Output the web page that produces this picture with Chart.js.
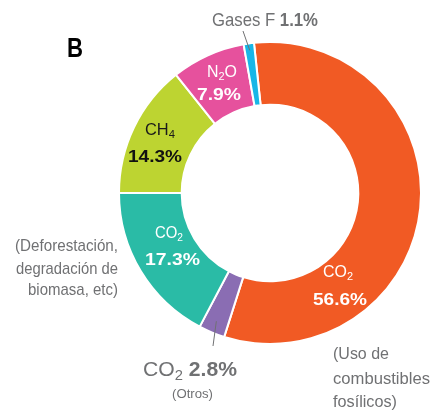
<!DOCTYPE html>
<html>
<head>
<meta charset="utf-8">
<script src="https://cdn.jsdelivr.net/npm/chart.js@4"></script>
<style>
  body { margin: 0; background: #fff; }
  #wrap { width: 433px; height: 412px; position: relative; }
</style>
</head>
<body>
<div id="wrap"><canvas id="chart"></canvas></div>
<script>
// data (percent of emissions)
const categories = ['CO2 (Uso de combustibles fosílicos)', 'CO2 (Otros)', 'CO2 (Deforestación, degradación de biomasa, etc)', 'CH4', 'N2O', 'Gases F'];
const shares = [56.6, 2.8, 17.3, 14.3, 7.9, 1.1];
const colors = ['#f15a24', '#8a6db3', '#2abba6', '#bdd431', '#e6519d', '#17b6e7'];

const gray = '#707173';
const FONT = '"Liberation Sans", Arial, sans-serif';

function pct(i) { return shares[i].toFixed(1) + '%'; }

// draw a run of text pieces, squeezed to a target width
function runs(ctx, parts, x, y, align, width, color) {
  let total = 0;
  parts.forEach(p => { ctx.font = p[1]; p.w = ctx.measureText(p[0]).width; total += p.w; });
  const sx = width ? width / total : 1;
  ctx.save();
  ctx.fillStyle = color;
  ctx.textBaseline = 'alphabetic';
  ctx.textAlign = 'left';
  ctx.translate(x, y);
  ctx.scale(sx, 1);
  let pos = align === 'center' ? -total / 2 : (align === 'right' ? -total : 0);
  parts.forEach(p => {
    ctx.font = p[1];
    ctx.fillText(p[0], pos, p[2] || 0);
    pos += p.w;
  });
  ctx.restore();
}

const reg = s => s + 'px ' + FONT;
const bold = s => 'bold ' + s + 'px ' + FONT;

function arcPoint(arc, r) {
  const mid = (arc.startAngle + arc.endAngle) / 2;
  return [arc.x + r * Math.cos(mid), arc.y + r * Math.sin(mid)];
}

const labelPlugin = {
  id: 'labels',
  afterDraw(chart) {
    const ctx = chart.ctx;
    const arcs = chart.getDatasetMeta(0).data;

    runs(ctx, [['B', bold(28)]], 67, 57, 'left', 16, '#000');

    // leader lines
    ctx.save();
    ctx.strokeStyle = gray;
    ctx.lineWidth = 1;
    let p = arcPoint(arcs[5], arcs[5].outerRadius - 7);
    ctx.beginPath(); ctx.moveTo(243, 31); ctx.lineTo(p[0], p[1]); ctx.stroke();
    p = arcPoint(arcs[1], arcs[1].outerRadius - 12);
    ctx.beginPath(); ctx.moveTo(p[0], p[1]); ctx.lineTo(213, 346); ctx.stroke();
    ctx.restore();

    // Gases F
    runs(ctx, [['Gases F ', reg(19)], [pct(5), bold(19)]], 212, 26, 'left', 106, gray);

    // N2O
    runs(ctx, [['N', reg(16)], ['2', reg(11), 3], ['O', reg(16)]], 207, 77, 'left', 30, '#fff');
    runs(ctx, [[pct(4), bold(17)]], 197, 100, 'left', 44, '#fff');

    // CH4
    runs(ctx, [['CH', reg(16)], ['4', reg(11), 3]], 145, 135, 'left', 30, '#1a1a1a');
    runs(ctx, [[pct(3), bold(17)]], 128, 162, 'left', 54, '#111');

    // CO2 deforestation
    runs(ctx, [['CO', reg(16)], ['2', reg(11), 3]], 155, 238, 'left', 28, '#fff');
    runs(ctx, [[pct(2), bold(17)]], 145, 265, 'left', 55, '#fff');

    // CO2 fossil
    runs(ctx, [['CO', reg(16)], ['2', reg(11), 3]], 323, 277, 'left', 30, '#fff');
    runs(ctx, [[pct(0), bold(17)]], 313, 305, 'left', 54, '#fff');

    // CO2 otros
    runs(ctx, [['CO', reg(20)], ['2', reg(14), 4], [' ', reg(20)], [pct(1), bold(20)]], 143, 376, 'left', 94, gray);
    runs(ctx, [['(Otros)', reg(13)]], 172, 398, 'left', 41, gray);

    // side notes
    runs(ctx, [['(Deforestación,', reg(17)]], 118, 251, 'right', 103, gray);
    runs(ctx, [['degradación de', reg(17)]], 118, 274, 'right', 102, gray);
    runs(ctx, [['biomasa, etc)', reg(17)]], 118, 295, 'right', 90, gray);

    runs(ctx, [['(Uso de', reg(17)]], 333, 359, 'left', 56, gray);
    runs(ctx, [['combustibles', reg(17)]], 333, 384, 'left', 97, gray);
    runs(ctx, [['fosílicos)', reg(17)]], 333, 407, 'left', 64, gray);
  }
};

new Chart(document.getElementById('chart'), {
  type: 'doughnut',
  data: {
    labels: categories,
    datasets: [{
      data: shares,
      backgroundColor: colors,
      borderColor: '#fff',
      borderWidth: 2
    }]
  },
  options: {
    responsive: true,
    maintainAspectRatio: false,
    animation: false,
    rotation: -6.1,
    cutout: '58.5%',
    layout: { padding: { left: 118, right: 11, top: 41, bottom: 67 } },
    plugins: {
      legend: { display: false },
      tooltip: { enabled: false }
    }
  },
  plugins: [labelPlugin]
});
</script>
</body>
</html>
